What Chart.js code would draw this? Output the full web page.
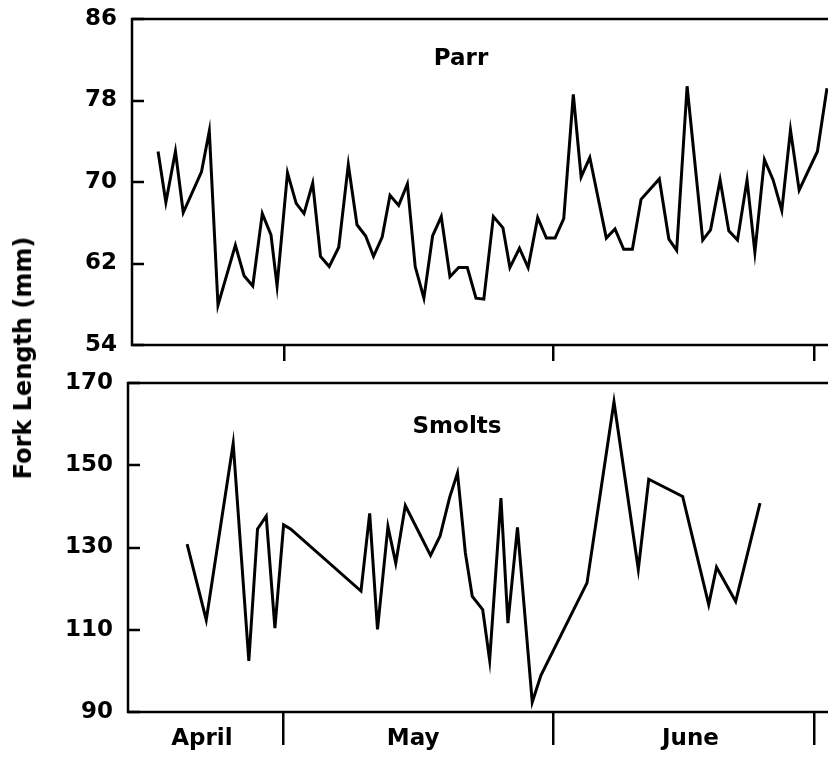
<!DOCTYPE html>
<html lang="en">
<head>
<meta charset="UTF-8">
<title>Fork length of parr and smolts</title>
<script src="https://cdn.jsdelivr.net/npm/chart.js"></script>
<style>
  html, body { margin: 0; padding: 0; background: #fff; }
  body { width: 828px; height: 760px; overflow: hidden; position: relative;
         font-family: 'DejaVu Sans', sans-serif; font-weight: bold; color: #000; }
  canvas { position: absolute; left: 0; }
  #parrChart { top: 0; }
  #smoltChart { top: 364px; }
  .label { position: absolute; font-size: 23px; line-height: 1; white-space: nowrap;
           transform: translate(-50%, -50%); }
  #yTitle { left: 23px; top: 358px; font-size: 24px;
            transform: translate(-50%, -50%) rotate(-90deg); }
</style>
</head>
<body>
  <canvas id="parrChart" width="840" height="364"></canvas>
  <canvas id="smoltChart" width="840" height="396"></canvas>
  <div class="label" style="left:461px; top:57px;">Parr</div>
  <div class="label" style="left:457px; top:425px;">Smolts</div>
  <div class="label" id="yTitle">Fork Length (mm)</div>

<script>
// day numbers: April 1 = 1, May 1 = 31, June 1 = 62
const parrDays = [16.0, 16.9, 18.0, 18.9, 21.0, 21.9, 22.9, 24.9, 25.9, 26.9, 28.0, 29.0, 29.7,
  30.9, 31.9, 32.8, 33.8, 34.7, 35.7, 36.8, 37.9, 38.9, 39.9, 40.8, 41.8, 42.7, 43.7, 44.7,
  45.6, 46.6, 47.6, 48.6, 49.6, 50.6, 51.6, 52.6, 53.5, 54.6, 55.7, 56.5, 57.6, 58.6, 59.7,
  60.7, 61.7, 62.7, 63.8, 64.7, 65.7, 67.6, 68.6, 69.6, 70.6, 71.6, 73.7, 74.8, 75.7, 76.9,
  78.7, 79.6, 80.7, 81.7, 82.7, 83.8, 84.7, 85.8, 86.8, 87.8, 88.8, 89.8, 91.9, 93.0];
const parrLength = [73.0, 68.0, 73.0, 67.0, 71.0, 75.0, 57.9, 63.8, 60.8, 59.8, 66.9, 64.8, 59.8,
  70.9, 67.9, 66.9, 69.9, 62.7, 61.7, 63.6, 71.7, 65.8, 64.7, 62.7, 64.6, 68.7, 67.7, 69.8,
  61.7, 58.6, 64.7, 66.6, 60.7, 61.6, 61.6, 58.6, 58.5, 66.6, 65.5, 61.6, 63.5, 61.6, 66.5,
  64.5, 64.5, 66.4, 78.6, 70.5, 72.4, 64.5, 65.4, 63.4, 63.4, 68.3, 70.3, 64.4, 63.3, 79.4,
  64.3, 65.3, 70.2, 65.2, 64.3, 70.2, 63.1, 72.2, 70.2, 67.2, 75.1, 69.2, 73.0, 79.2];

const smoltDays = [19.4, 21.6, 24.7, 26.5, 27.5, 28.5, 29.5, 30.5, 31.3, 39.4, 40.4, 41.3, 42.5,
  43.4, 44.5, 47.4, 48.5, 49.6, 50.5, 51.4, 52.2, 53.4, 54.2, 55.5, 56.3, 57.4, 59.1, 60.1,
  65.4, 68.5, 71.3, 72.5, 76.4, 79.4, 80.3, 82.5, 85.3];
const smoltLength = [130.8, 112.4, 155.3, 102.4, 134.5, 137.6, 110.4, 135.5, 134.5, 119.4, 138.3,
  110.1, 135.1, 126.2, 140.2, 128.1, 132.8, 142.2, 148.1, 128.8, 118.1, 114.9, 102.6, 142.0,
  111.6, 134.9, 92.4, 98.9, 121.4, 165.4, 124.7, 146.6, 142.4, 116.1, 125.2, 116.9, 140.8];

const parrTicks = [54, 62, 70, 78, 86];
const smoltTicks = [90, 110, 130, 150, 170];
const monthEdges = [30.5, 61.5, 91.5];
const monthNames = ['April', 'May', 'June'];
const monthMid = [21.1, 45.4, 77.3];

Chart.defaults.font.family = "'DejaVu Sans', sans-serif";
Chart.defaults.font.weight = 'bold';
Chart.defaults.font.size = 23;
Chart.defaults.color = '#000';

// box round the plot area, and the short inward ticks on the y axis
const frame = {
  id: 'frame',
  afterDatasetsDraw(chart) {
    const { ctx, chartArea: a } = chart;
    const y = chart.scales.y;
    ctx.save();
    ctx.strokeStyle = '#000';
    ctx.lineWidth = 2.5;
    ctx.strokeRect(a.left, a.top, a.right - a.left, a.bottom - a.top);
    ctx.beginPath();
    y.ticks.forEach(t => {
      const py = Math.round(y.getPixelForValue(t.value));
      ctx.moveTo(a.left, py);
      ctx.lineTo(a.left + 12, py);
    });
    ctx.stroke();
    ctx.restore();
  }
};

function makeChart(id, days, values, yTicks, opts) {
  const xTicks = monthEdges.map(v => ({ value: v, label: '' }));
  if (opts.months) monthMid.forEach((v, i) => xTicks.push({ value: v, label: monthNames[i] }));
  xTicks.sort((a, b) => a.value - b.value);

  return new Chart(document.getElementById(id), {
    type: 'line',
    data: {
      datasets: [{
        data: days.map((d, i) => ({ x: d, y: values[i] })),
        borderColor: '#000',
        borderWidth: 3,
        pointRadius: 0,
        tension: 0,
        fill: false
      }]
    },
    options: {
      responsive: false,
      animation: false,
      events: [],
      layout: { padding: { top: opts.top, left: 0, right: 0, bottom: 0 } },
      plugins: { legend: { display: false }, tooltip: { enabled: false } },
      scales: {
        x: {
          type: 'linear',
          min: opts.xMin,
          max: 94.5,
          afterBuildTicks: s => { s.ticks = xTicks.map(t => ({ value: t.value })); },
          afterFit: s => { s.height = opts.xHeight; s.paddingLeft = 0; s.paddingRight = 0; },
          ticks: {
            autoSkip: false,
            maxRotation: 0,
            padding: opts.labelPad,
            callback: (v, i) => xTicks[i] ? xTicks[i].label : ''
          },
          grid: {
            drawOnChartArea: false,
            tickLength: opts.tickLen,
            lineWidth: 2.5,
            color: c => (c.tick && monthEdges.includes(c.tick.value)) ? '#000' : 'rgba(0,0,0,0)'
          },
          border: { display: false }
        },
        y: {
          min: yTicks[0],
          max: yTicks[yTicks.length - 1],
          afterBuildTicks: s => { s.ticks = yTicks.map(v => ({ value: v })); },
          afterFit: s => { s.width = opts.left; s.paddingTop = 0; s.paddingBottom = 0; },
          ticks: { padding: 15 },
          grid: { display: true, drawOnChartArea: false, drawTicks: false, color: 'rgba(0,0,0,0)' },
          border: { display: false }
        }
      }
    },
    plugins: [frame]
  });
}

makeChart('parrChart', parrDays, parrLength, parrTicks,
  { top: 19, left: 132, xMin: 13.0, xHeight: 19, tickLen: 16, labelPad: 0, months: false });
makeChart('smoltChart', smoltDays, smoltLength, smoltTicks,
  { top: 19, left: 128, xMin: 12.6, xHeight: 48, tickLen: 33, labelPad: -20, months: true });
</script>
</body>
</html>
